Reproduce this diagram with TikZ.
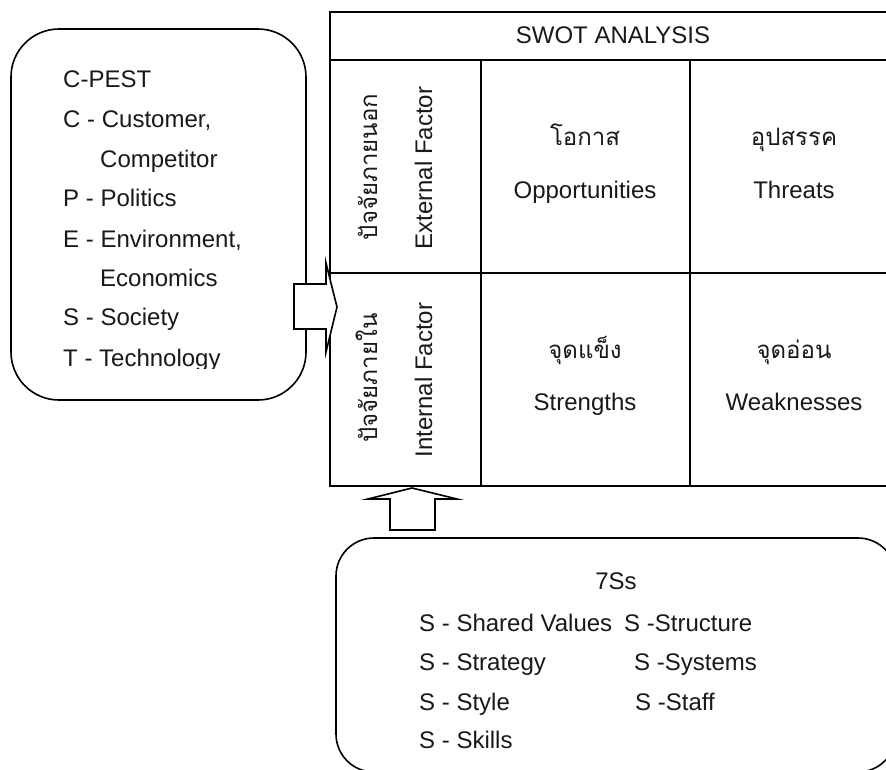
\documentclass[tikz,border=0pt]{standalone}
\usepackage{fontspec}
\setmainfont{Liberation Sans}
\newfontfamily\thaifont[Script=Thai]{Loma}

\begin{document}
\begin{tikzpicture}[x=1pt,y=-1pt,
  rbox/.style={draw, line width=1.6pt},
  gridline/.style={line width=2pt},
  lbl/.style={font=\fontsize{24}{28}\selectfont, inner sep=0pt, text=black!90},
  thl/.style={font=\thaifont\fontsize{24}{28}\selectfont, inner sep=0pt, text=black!90},
  blockarrow/.style={draw, fill=white, line width=1.6pt, line join=miter}]
\path[use as bounding box, clip] (0,0) rectangle (886,769);
\fill[white] (0,0) rectangle (886,769);

% ---- C-PEST box ----
\draw[rbox, rounded corners=48pt] (11,29) rectangle (306,400);
\begin{scope}
  \clip (0,0) rectangle (320,368);
  \node[lbl, anchor=base west] (cpesttitle) at (63,87)  {C-PEST};
  \node[lbl, anchor=base west] (pc)  at (63,127) {C - Customer,};
  \node[lbl, anchor=base west] (pc2) at (100,167) {Competitor};
  \node[lbl, anchor=base west] (pp)  at (63,206) {P - Politics};
  \node[lbl, anchor=base west] (pe)  at (63,247) {E - Environment,};
  \node[lbl, anchor=base west] (pe2) at (100,286) {Economics};
  \node[lbl, anchor=base west] (ps)  at (63,325) {S - Society};
  \node[lbl, anchor=base west] (pt)  at (63,366) {T - Technology};
\end{scope}

% ---- SWOT table ----
\draw[gridline] (330,12) rectangle (898,486);
\draw[gridline] (330,60) -- (898,60);
\draw[gridline] (330,273) -- (898,273);
\draw[gridline] (481,60) -- (481,486);
\draw[gridline] (690,60) -- (690,486);

\node[lbl, anchor=base] (swottitle) at (613,43) {SWOT ANALYSIS};

% row labels (rotated)
\node[thl, anchor=base, rotate=90] (extth) at (377,167) {ปัจจัยภายนอก};
\node[lbl, anchor=base, rotate=90] (exten) at (432,168) {External Factor};
\node[thl, anchor=base, rotate=90] (intth) at (377,378) {ปัจจัยภายใน};
\node[lbl, anchor=base, rotate=90] (inten) at (432,380) {Internal Factor};

% cells
\node[thl, anchor=base] (oth) at (585,145) {โอกาส};
\node[lbl, anchor=base] (oen) at (585,198) {Opportunities};
\node[thl, anchor=base] (tth) at (794,145) {อุปสรรค};
\node[lbl, anchor=base] (ten) at (794,198) {Threats};
\node[thl, anchor=base] (sth) at (585,358) {จุดแข็ง};
\node[lbl, anchor=base] (sen) at (585,410) {Strengths};
\node[thl, anchor=base] (wth) at (794,358) {จุดอ่อน};
\node[lbl, anchor=base] (wen) at (794,410) {Weaknesses};

% ---- 7Ss box ----
\draw[rbox, rounded corners=38pt] (336,538) rectangle (896,772);
\node[lbl, anchor=base] (sstitle) at (616,589) {7Ss};
\node[lbl, anchor=base west] (s1) at (419,631) {S - Shared Values};
\node[lbl, anchor=base west] (s2) at (419,670) {S - Strategy};
\node[lbl, anchor=base west] (s3) at (419,710) {S - Style};
\node[lbl, anchor=base west] (s4) at (419,748) {S - Skills};
\node[lbl, anchor=base west] (s5) at (624,631) {S -Structure};
\node[lbl, anchor=base west] (s6) at (634,670) {S -Systems};
\node[lbl, anchor=base west] (s7) at (635,710) {S -Staff};

% ---- block arrows ----
\draw[blockarrow] (294,284) -- (326,284) -- (326,263) -- (337,307)
  -- (326,352) -- (326,329) -- (294,329) -- cycle;
\draw[blockarrow] (390,530) -- (390,499) -- (368,499) -- (412,488)
  -- (457,499) -- (435,499) -- (435,530) -- cycle;
\end{tikzpicture}
\end{document}
